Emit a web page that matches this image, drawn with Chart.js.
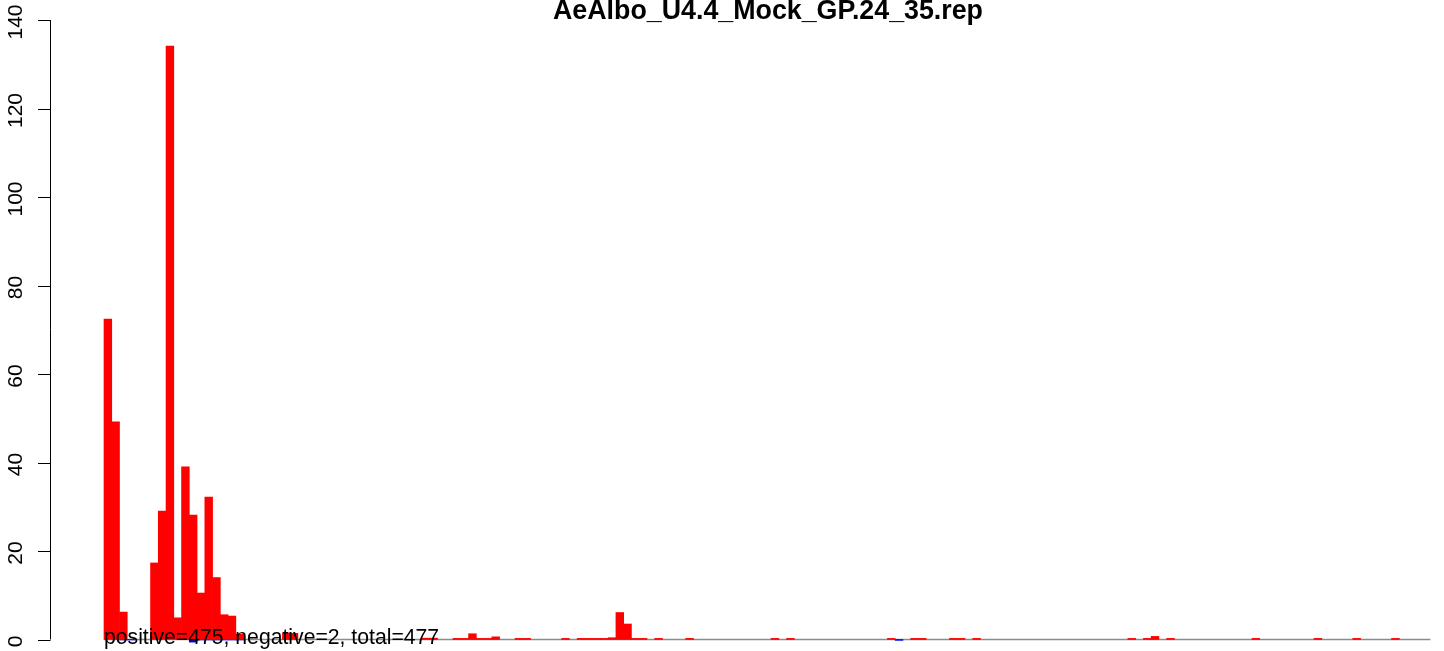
<!DOCTYPE html>
<html>
<head>
<meta charset="utf-8">
<script src="https://cdn.jsdelivr.net/npm/chart.js@4.4.1/dist/chart.umd.min.js"></script>
<style>
  html, body { margin: 0; padding: 0; background: #fff; }
  #wrap { width: 1444px; height: 651px; }
</style>
</head>
<body>
<div id="wrap"><canvas id="repChart" width="1444" height="651"></canvas></div>
<script>
const chartTitle = "AeAlbo_U4.4_Mock_GP.24_35.rep";
const footText = "positive=475, negative=2, total=477";
const binCount = 171;
const yTicks = [0, 20, 40, 60, 80, 100, 120, 140];

// red bars (bin index -> count)
const posBins = [0, 1, 2, 6, 7, 8, 9, 10, 11, 12, 13, 14, 15, 16, 17, 23, 24, 41, 42,
  45, 46, 47, 48, 49, 50, 53, 54, 59, 61, 62, 63, 64, 65, 66, 67, 68, 69, 71, 75, 86, 88,
  101, 104, 105, 109, 110, 112, 132, 134, 135, 137, 148, 156, 161, 166];
const posCounts = [72.4, 49.2, 6.2, 17.3, 29.0, 134.1, 4.9, 39.0, 28.1, 10.5, 32.2, 14.0, 5.6, 5.3, 1.2, 1.5, 1.4, 0.3, 0.3,
  0.25, 0.25, 1.3, 0.25, 0.25, 0.6, 0.25, 0.25, 0.25, 0.25, 0.25, 0.25, 0.25, 0.4, 6.1, 3.5, 0.25, 0.25, 0.25, 0.25, 0.25, 0.25,
  0.25, 0.25, 0.25, 0.25, 0.25, 0.25, 0.25, 0.25, 0.7, 0.25, 0.25, 0.25, 0.25, 0.25];

// blue bars (negative strand)
const negBins = [2, 3, 11, 12, 13, 14, 15, 16, 17, 102];
const negCounts = [-0.1, -0.1, -0.6, -0.1, -0.1, -0.1, -0.1, -0.1, -0.1, -0.2];

function toPoints(bins, counts) {
  return bins.map((b, i) => ({ x: b, y: counts[i] }));
}

const rAxisPlugin = {
  id: "rAxisPlugin",
  beforeDatasetsDraw(chart) {
    const { ctx, scales: { x, y } } = chart;
    const y0 = y.getPixelForValue(0);
    ctx.save();
    ctx.strokeStyle = "#8c8c8c";
    ctx.lineWidth = 1.5;
    ctx.beginPath();
    ctx.moveTo(x.getPixelForValue(-0.5), y0);
    ctx.lineTo(x.getPixelForValue(binCount - 0.5), y0);
    ctx.stroke();
    ctx.restore();
  },
  afterDatasetsDraw(chart) {
    const { ctx, chartArea, scales: { y } } = chart;
    const axisX = chartArea.left;
    ctx.save();
    ctx.strokeStyle = "#000";
    ctx.lineWidth = 1;
    ctx.beginPath();
    ctx.moveTo(axisX + 0.5, y.getPixelForValue(yTicks[0]));
    ctx.lineTo(axisX + 0.5, y.getPixelForValue(yTicks[yTicks.length - 1]));
    yTicks.forEach((t) => {
      const py = Math.round(y.getPixelForValue(t)) + 0.5;
      ctx.moveTo(axisX + 0.5, py);
      ctx.lineTo(axisX - 12, py);
    });
    ctx.stroke();

    ctx.fillStyle = "#000";
    ctx.font = "21px 'Liberation Sans', Arial, sans-serif";
    ctx.textAlign = "center";
    ctx.textBaseline = "alphabetic";
    yTicks.forEach((t) => {
      ctx.save();
      ctx.translate(22, y.getPixelForValue(t) + 2);
      ctx.rotate(-Math.PI / 2);
      ctx.fillText(String(t), 0, 0);
      ctx.restore();
    });

    ctx.font = "bold 26.8px 'Liberation Sans', Arial, sans-serif";
    ctx.fillText(chartTitle, 768, 19);

    ctx.font = "21.2px 'Liberation Sans', Arial, sans-serif";
    ctx.textAlign = "left";
    ctx.fillText(footText, 104, 644);
    ctx.restore();
  },
};

const barCommon = {
  borderWidth: 0,
  barPercentage: 1,
  categoryPercentage: 1,
  clip: false,
};

new Chart(document.getElementById("repChart"), {
  type: "bar",
  data: {
    datasets: [
      { label: "positive", data: toPoints(posBins, posCounts), backgroundColor: "#ff0000", ...barCommon },
      { label: "negative", data: toPoints(negBins, negCounts), backgroundColor: "#0000ff", ...barCommon },
    ],
  },
  options: {
    responsive: false,
    animation: false,
    devicePixelRatio: 1,
    layout: { padding: { left: 50, right: 4, top: 20, bottom: 11.5 } },
    plugins: {
      legend: { display: false },
      tooltip: { enabled: false },
      title: { display: false },
    },
    scales: {
      x: { type: "linear", min: -7.46, max: 171.74, offset: false, stacked: true, display: false },
      y: { min: 0, max: 140, stacked: true, display: false },
    },
  },
  plugins: [rAxisPlugin],
});
</script>
</body>
</html>
